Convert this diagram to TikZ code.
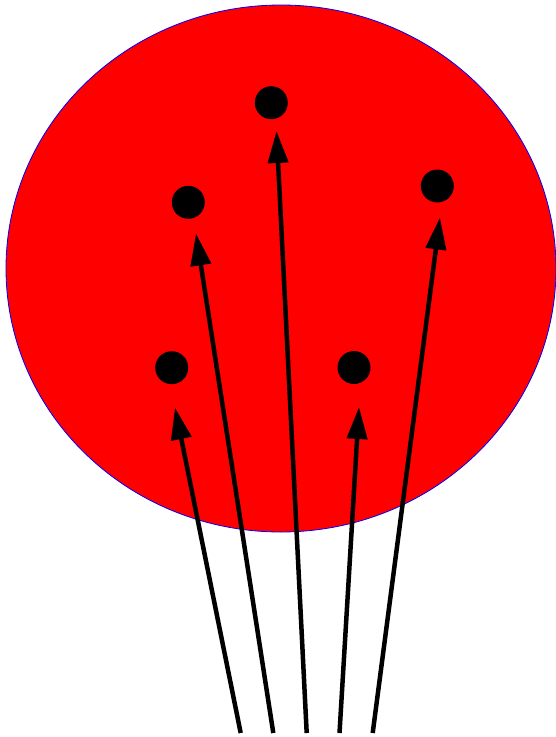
\documentclass[tikz,border=0pt]{standalone}
\usetikzlibrary{arrows.meta}
\begin{document}
\begin{tikzpicture}[x=1pt,y=-1pt,
  blob/.style={draw=blue,fill=red,line width=0.8pt},
  dot/.style={circle,fill=black,inner sep=0pt,minimum size=33pt},
  arr/.style={line width=4.5pt,-{Triangle[length=32pt,width=20pt]}}]
\useasboundingbox (0,0) rectangle (556,737);
\path[blob] (281,268.5) ellipse [x radius=275, y radius=263.5];
\node[dot] (d1) at (171.7,367.7) {};
\node[dot] (d2) at (188.3,202.3) {};
\node[dot] (d3) at (271.3,102.7) {};
\node[dot] (d4) at (354,367.5) {};
\node[dot] (d5) at (437.3,186) {};
\coordinate (s1) at (240.7,733);
\coordinate (s2) at (273.3,733);
\coordinate (s3) at (306.7,733);
\coordinate (s4) at (339.5,733);
\coordinate (s5) at (372.7,733);
\coordinate (t1) at (175,407.5);
\coordinate (t2) at (196,233.5);
\coordinate (t3) at (276.5,131);
\coordinate (t4) at (359,407);
\coordinate (t5) at (440,217.5);
\draw[arr] (s1) -- (t1);
\draw[arr] (s2) -- (t2);
\draw[arr] (s3) -- (t3);
\draw[arr] (s4) -- (t4);
\draw[arr] (s5) -- (t5);
\end{tikzpicture}
\end{document}
